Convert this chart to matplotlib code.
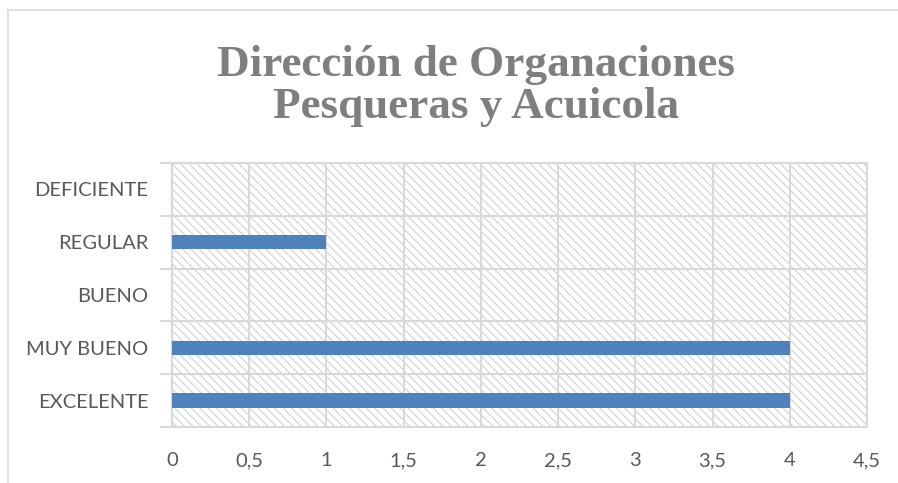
import matplotlib
matplotlib.use("Agg")
import matplotlib.pyplot as plt
from matplotlib.patches import Rectangle
from matplotlib.lines import Line2D
import numpy as np

categories = ["EXCELENTE", "MUY BUENO", "BUENO", "REGULAR", "DEFICIENTE"]
values = [4, 4, 0, 1, 0]
xticks = [0, 0.5, 1, 1.5, 2, 2.5, 3, 3.5, 4, 4.5]
xticklabels = ["0", "0,5", "1", "1,5", "2", "2,5", "3", "3,5", "4", "4,5"]
title = "Dirección de Organaciones\nPesqueras y Acuicola"

plt.rcParams['hatch.linewidth'] = 0.8
plt.rcParams['hatch.color'] = '#d2d2d2'

W, H = 898, 483
fig = plt.figure(figsize=(W/100, H/100), dpi=100)
ax = fig.add_axes([172/W, 1-427/H, (867-172)/W, (427-163)/H])

ypos = np.arange(len(categories))
ax.set_xlim(0, 4.5)
ax.set_ylim(-0.5, len(categories)-0.5)

# hatched background
bg = Rectangle((0, 0), 1, 1, transform=ax.transAxes, facecolor='white',
               edgecolor='#d2d2d2', hatch='\\\\\\\\', linewidth=0, zorder=0)
ax.add_patch(bg)

ax.barh(ypos, values, height=0.27, color='#4f81bd', zorder=3)

gc = '#d9d9d9'
ax.set_xticks(xticks)
ax.set_xticklabels(xticklabels)
ax.set_yticks(ypos)
ax.set_yticklabels(categories)
ax.set_yticks(np.arange(-0.5, len(categories), 1), minor=True)
ax.grid(True, axis='x', which='major', color=gc, linewidth=1.5, zorder=1)
ax.grid(True, axis='y', which='minor', color=gc, linewidth=1.5, zorder=1)
ax.set_axisbelow(True)
ax.tick_params(axis='both', which='major', length=0, labelsize=14.5,
               labelcolor='#595959')
ax.tick_params(axis='y', which='major', pad=17)
ax.tick_params(axis='x', which='major', pad=18)
ax.tick_params(axis='y', which='minor', length=9, color=gc, width=1.5)
for lbl in ax.get_xticklabels() + ax.get_yticklabels():
    lbl.set_fontfamily('Lato')
for s in ax.spines.values():
    s.set_color(gc)
    s.set_linewidth(1.5)

fig.text(476/W, 1-86/H, title, ha='center', va='center',
         fontsize=32.5, fontweight='bold', color='#7f7f7f',
         family='Liberation Serif', linespacing=1.05)

# chart area border (top and left)
fig.add_artist(Line2D([8/W, 1], [1-10/H, 1-10/H], color='#d9d9d9', lw=1.2,
                      transform=fig.transFigure))
fig.add_artist(Line2D([8/W, 8/W], [0, 1-10/H], color='#d9d9d9', lw=1.2,
                      transform=fig.transFigure))

fig.savefig("out.png", dpi=100)
